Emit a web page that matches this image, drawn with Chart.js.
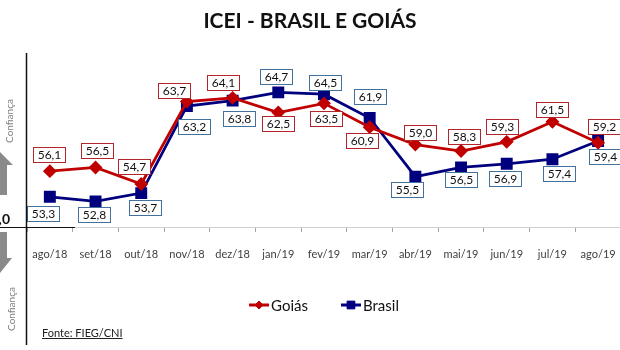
<!DOCTYPE html>
<html>
<head>
<meta charset="utf-8">
<script src="https://cdn.jsdelivr.net/npm/chart.js@4.4.1/dist/chart.umd.min.js"></script>
<style>
  html, body { margin: 0; padding: 0; background: #fff; overflow: hidden; width: 620px; height: 350px; }
  #wrap { position: relative; width: 632px; height: 350px; }
  canvas { position: absolute; left: 0; top: 0; }
  #title { position: absolute; left: 0; width: 620px; top: 7px; text-align: center;
           font: bold 21px Lato, sans-serif; color: #111; }
  #fonte { position: absolute; left: 42px; top: 326px; font: 11px Lato, sans-serif;
           color: #222; text-decoration: underline; }
</style>
</head>
<body>
<div id="wrap">
  <canvas id="chart" width="632" height="350"></canvas>
  <div id="title">ICEI - BRASIL E GOIÁS</div>
  <div id="fonte">Fonte: FIEG/CNI</div>
</div>
<script>
const meses = ['ago/18', 'set/18', 'out/18', 'nov/18', 'dez/18', 'jan/19', 'fev/19',
               'mar/19', 'abr/19', 'mai/19', 'jun/19', 'jul/19', 'ago/19'];
const goias  = [56.1, 56.5, 54.7, 63.7, 64.1, 62.5, 63.5, 60.9, 59.0, 58.3, 59.3, 61.5, 59.2];
const brasil = [53.3, 52.8, 53.7, 63.2, 63.8, 64.7, 64.5, 61.9, 55.5, 56.5, 56.9, 57.4, 59.4];

// deslocamento das caixas de rótulo em relação ao ponto (px)
const goiasLabelShift  = [[-1,-17], [1,-17], [-7,-17], [-13,-11], [-10,-15], [0,11], [2,15],
                          [-8,13], [5,-12], [3,-14], [-5,-15], [0,-12], [6,-16]];
const brasilLabelShift = [[-7,17], [-2,13], [4,14], [7,20], [6,18], [-2,-16], [1,-12],
                          [0,-22], [-8,13], [0,12], [-2,15], [7,14], [7,16]];

const FONT = 'Lato, sans-serif';

// caixinhas com os valores
const boxLabels = {
  id: 'boxLabels',
  afterDatasetsDraw(chart) {
    const ctx = chart.ctx;
    ctx.save();
    ctx.font = '12px ' + FONT;
    ctx.textAlign = 'center';
    ctx.textBaseline = 'middle';
    chart.data.datasets.forEach((ds, i) => {
      chart.getDatasetMeta(i).data.forEach((pt, j) => {
        const [dx, dy] = ds.labelShift[j];
        const txt = ds.data[j].toFixed(1).replace('.', ',');
        const w = Math.round(ctx.measureText(txt).width + 8), h = 15;
        const x0 = Math.round(pt.x + dx - w / 2), y0 = Math.round(pt.y + dy - h / 2);
        ctx.fillStyle = '#fff';
        ctx.fillRect(x0, y0, w, h);
        ctx.strokeStyle = ds.labelBorder;
        ctx.lineWidth = 1;
        ctx.strokeRect(x0 + 0.5, y0 + 0.5, w, h);
        ctx.fillStyle = '#111';
        ctx.fillText(txt, x0 + w / 2 + 0.5, y0 + h / 2 + 1);
      });
    });
    ctx.restore();
  }
};

// legenda: linha com marcador + nome
const lineLegend = {
  id: 'lineLegend',
  afterDraw(chart) {
    const ctx = chart.ctx;
    ctx.save();
    ctx.font = '15px ' + FONT;
    ctx.textBaseline = 'middle';
    const items = chart.data.datasets.map(ds => ({ ds, w: 22 + ctx.measureText(ds.label).width }));
    const gap = 33;
    const total = items.reduce((s, it) => s + it.w, 0) + gap * (items.length - 1);
    let x = 324 - total / 2;
    const y = 305;
    items.forEach(it => {
      const ds = it.ds;
      ctx.strokeStyle = ds.borderColor;
      ctx.lineWidth = 3;
      ctx.beginPath();
      ctx.moveTo(x, y);
      ctx.lineTo(x + 20, y);
      ctx.stroke();
      ctx.fillStyle = ds.pointBackgroundColor;
      ctx.lineWidth = 1;
      Chart.helpers.drawPoint(ctx, { pointStyle: ds.pointStyle, radius: ds.pointRadius - 1,
                                     borderWidth: 1, rotation: 0 }, x + 10, y);
      ctx.fillStyle = '#111';
      ctx.fillText(ds.label, x + 22, y + 1);
      x += it.w + gap;
    });
    ctx.restore();
  }
};

// eixo vertical, linha do 50, setas e "Confiança"
const decor = {
  id: 'decor',
  afterDraw(chart) {
    const ctx = chart.ctx;
    const y50 = Math.round(chart.scales.y.getPixelForValue(50)) + 0.5;
    ctx.save();
    ctx.strokeStyle = '#111';
    ctx.lineWidth = 1.5;
    ctx.beginPath();
    ctx.moveTo(26.5, 53);
    ctx.lineTo(26.5, 345);
    ctx.stroke();
    ctx.lineWidth = 1.2;
    ctx.beginPath();
    ctx.moveTo(0, y50);
    ctx.lineTo(75, y50);
    ctx.stroke();

    ctx.fillStyle = '#111';
    ctx.font = 'bold 14px ' + FONT;
    ctx.textAlign = 'right';
    ctx.textBaseline = 'alphabetic';
    ctx.fillText('50,0', 10, y50 - 4);

    ctx.fillStyle = '#8a8a8a';
    // seta para cima
    ctx.beginPath();
    ctx.moveTo(0, 152); ctx.lineTo(13, 165); ctx.lineTo(7, 165); ctx.lineTo(7, 195);
    ctx.lineTo(-7, 195); ctx.lineTo(-7, 165); ctx.lineTo(-13, 165); ctx.closePath();
    ctx.fill();
    // seta para baixo
    ctx.beginPath();
    ctx.moveTo(-7, 232); ctx.lineTo(7, 232); ctx.lineTo(7, 258); ctx.lineTo(12, 258);
    ctx.lineTo(0, 273); ctx.lineTo(-12, 258); ctx.lineTo(-7, 258); ctx.closePath();
    ctx.fill();

    ctx.fillStyle = '#808080';
    ctx.font = '10px ' + FONT;
    ctx.textAlign = 'center';
    ctx.textBaseline = 'middle';
    [[10, 121], [12, 309]].forEach(([cx, cy]) => {
      ctx.save();
      ctx.translate(cx, cy);
      ctx.rotate(-Math.PI / 2);
      ctx.fillText('Confiança', 0, 0);
      ctx.restore();
    });
    ctx.restore();
  }
};

new Chart(document.getElementById('chart'), {
  type: 'line',
  data: {
    labels: meses,
    datasets: [
      {
        label: 'Goiás',
        data: goias,
        borderColor: '#c00000',
        backgroundColor: '#c00000',
        pointBackgroundColor: '#c00000',
        pointBorderColor: '#c00000',
        pointStyle: 'rectRot',
        pointRadius: 5,
        borderWidth: 2.75,
        tension: 0,
        labelShift: goiasLabelShift,
        labelBorder: '#b0262b'
      },
      {
        label: 'Brasil',
        data: brasil,
        borderColor: '#00007f',
        backgroundColor: '#00007f',
        pointBackgroundColor: '#00007f',
        pointBorderColor: '#00007f',
        pointStyle: 'rect',
        pointRadius: 6.5,
        borderWidth: 2.75,
        tension: 0,
        labelShift: brasilLabelShift,
        labelBorder: '#41719c'
      }
    ]
  },
  options: {
    responsive: false,
    animation: false,
    devicePixelRatio: 1,
    layout: { padding: { left: 27, right: 2, top: 53, bottom: 83 } },
    plugins: {
      legend: { display: false },
      title: { display: false },
      tooltip: { enabled: false }
    },
    scales: {
      x: {
        offset: true,
        grid: { display: true, offset: true, drawOnChartArea: false, drawTicks: true,
                tickLength: 5, color: '#a6a6a6' },
        border: { display: true, color: '#d0d0d0', width: 1 },
        ticks: { color: '#404040', font: { family: FONT, size: 11 }, padding: 16,
                 maxRotation: 0, autoSkip: false },
        afterFit(scale) { scale.height = 40; }
      },
      y: { display: false, min: 50, max: 69 }
    }
  },
  plugins: [boxLabels, lineLegend, decor]
});
</script>
</body>
</html>
